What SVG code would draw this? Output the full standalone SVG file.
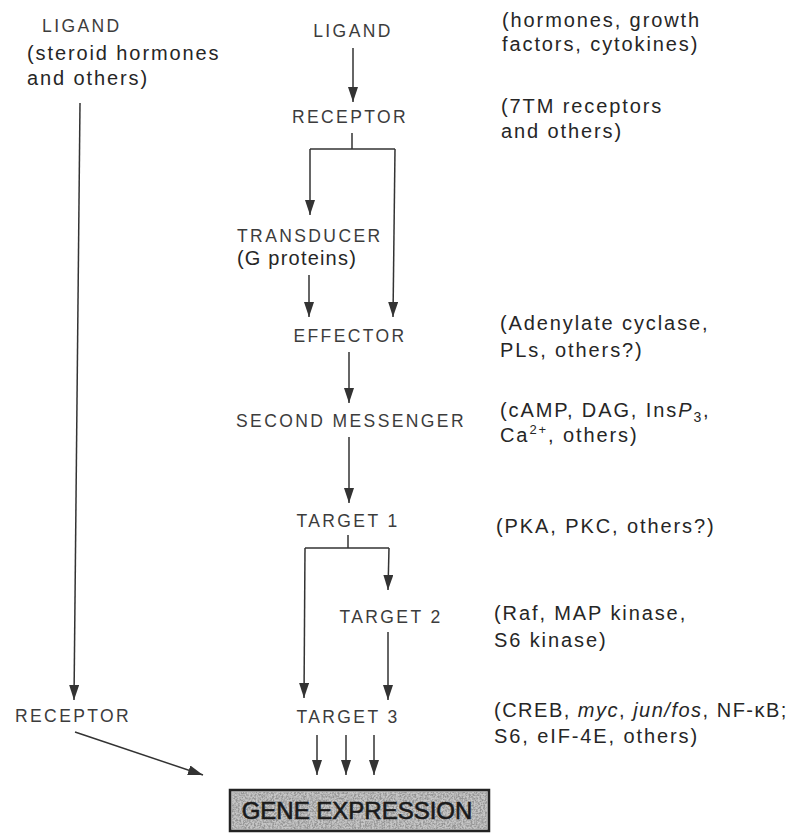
<svg xmlns="http://www.w3.org/2000/svg" width="788" height="833" viewBox="0 0 788 833">
<style>
  .lbl { font-family: "Liberation Sans", Arial, sans-serif; font-size: 17.5px; letter-spacing: 2.4px; fill: #3c3c3c; }
  .mid { text-anchor: middle; }
  .note { font-family: "Liberation Sans", Arial, sans-serif; font-size: 20px; letter-spacing: 1.9px; fill: #262626; }
  .ln { stroke: #333; stroke-width: 1.5; fill: none; }
  .arr { stroke: #333; stroke-width: 1.5; fill: none; marker-end: url(#ah); }
  .gene { font-family: "Liberation Sans", Arial, sans-serif; font-size: 24px; fill: #1a1a1a; stroke: #1a1a1a; stroke-width: 0.6; text-anchor: middle; }
</style>
<defs>
  <marker id="ah" viewBox="0 0 15 10" refX="15" refY="5" markerWidth="15" markerHeight="10" markerUnits="userSpaceOnUse" orient="auto">
    <path d="M0,0 L15,5 L0,10 z" fill="#333"/>
  </marker>
  <filter id="speck" x="0" y="0" width="100%" height="100%">
    <feTurbulence type="fractalNoise" baseFrequency="0.55" numOctaves="2" seed="4" result="n"/>
    <feColorMatrix in="n" type="matrix" values="0 0 0 0 0.3  0 0 0 0 0.3  0 0 0 0 0.3  0 0 0 -3 1.9" result="s"/>
    <feComposite in="s" in2="SourceGraphic" operator="in"/>
  </filter>
</defs>
<rect width="788" height="833" fill="#fff"/>

<g id="connectors">
  <line class="arr" x1="80" y1="103" x2="74" y2="700"/>
  <line class="arr" x1="75" y1="732" x2="203" y2="775"/>
  <line class="arr" x1="353" y1="48" x2="353" y2="102"/>
  <polyline class="ln" points="352,133 352,149"/>
  <polyline class="ln" points="310,149 395,149"/>
  <line class="arr" x1="310" y1="149" x2="310" y2="215"/>
  <line class="arr" x1="395" y1="149" x2="393" y2="317"/>
  <line class="arr" x1="309" y1="275" x2="309" y2="317"/>
  <line class="arr" x1="349" y1="352" x2="349" y2="403"/>
  <line class="arr" x1="349" y1="437" x2="349" y2="503"/>
  <polyline class="ln" points="348,535 348,548"/>
  <polyline class="ln" points="305,548 389,548"/>
  <line class="arr" x1="305" y1="548" x2="304" y2="698"/>
  <line class="arr" x1="389" y1="548" x2="388" y2="590"/>
  <line class="arr" x1="388" y1="632" x2="388" y2="700"/>
  <line class="arr" x1="317" y1="735" x2="317" y2="775"/>
  <line class="arr" x1="346" y1="735" x2="346" y2="775"/>
  <line class="arr" x1="374" y1="735" x2="374" y2="775"/>
</g>

<g id="ligand-left">
  <text class="lbl" x="42" y="32">LIGAND</text>
  <text class="note" x="27" y="60">(steroid hormones</text>
  <text class="note" x="27" y="85">and others)</text>
</g>
<g id="receptor-left">
  <text class="lbl" x="15" y="722">RECEPTOR</text>
</g>

<g id="ligand">
  <text class="lbl mid" x="353" y="37">LIGAND</text>
  <text class="note" x="502" y="27">(hormones, growth</text>
  <text class="note" x="502" y="51">factors, cytokines)</text>
</g>
<g id="receptor">
  <text class="lbl mid" x="350" y="123">RECEPTOR</text>
  <text class="note" x="501" y="113">(7TM receptors</text>
  <text class="note" x="501" y="138">and others)</text>
</g>
<g id="transducer">
  <text class="lbl" x="237" y="242">TRANSDUCER</text>
  <text class="note" x="237" y="265" style="letter-spacing:1.2px">(G proteins)</text>
</g>
<g id="effector">
  <text class="lbl mid" x="350" y="342">EFFECTOR</text>
  <text class="note" x="500" y="330">(Adenylate cyclase,</text>
  <text class="note" x="500" y="357">PLs, others?)</text>
</g>
<g id="second-messenger">
  <text class="lbl mid" x="351" y="427">SECOND MESSENGER</text>
  <text class="note" x="500" y="417">(cAMP, DAG, Ins<tspan font-style="italic">P</tspan><tspan font-size="14" dy="5">3</tspan><tspan dy="-5">,</tspan></text>
  <text class="note" x="500" y="442">Ca<tspan font-size="13" dy="-8">2+</tspan><tspan dy="8">, others)</tspan></text>
</g>
<g id="target1">
  <text class="lbl mid" x="348" y="527">TARGET 1</text>
  <text class="note" x="496" y="533">(PKA, PKC, others?)</text>
</g>
<g id="target2">
  <text class="lbl mid" x="391" y="623">TARGET 2</text>
  <text class="note" x="494" y="620">(Raf, MAP kinase,</text>
  <text class="note" x="494" y="647">S6 kinase)</text>
</g>
<g id="target3">
  <text class="lbl mid" x="348" y="723">TARGET 3</text>
  <text class="note" x="494" y="717" style="letter-spacing:1.5px">(CREB, <tspan font-style="italic">myc</tspan>, <tspan font-style="italic">jun/fos</tspan>, NF-κB;</text>
  <text class="note" x="494" y="743">S6, eIF-4E, others)</text>
</g>
<g id="gene-expression">
  <rect x="230" y="790" width="259" height="41" fill="#c6c6c6" stroke="#222" stroke-width="2.5"/>
  <rect x="232" y="792" width="255" height="37" fill="#000" filter="url(#speck)"/>
  <text class="gene" x="357" y="819">GENE EXPRESSION</text>
</g>
</svg>
